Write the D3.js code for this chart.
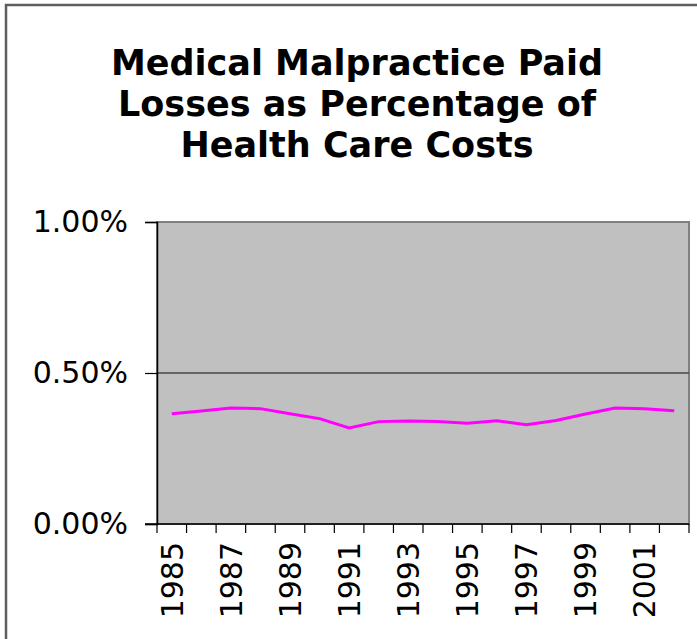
<!DOCTYPE html>
<html>
<head>
<meta charset="utf-8">
<script src="https://cdn.jsdelivr.net/npm/d3@7"></script>
<style>
    body { margin: 0; background: #fff; }
    svg { display: block; font-family: "DejaVu Sans", Verdana, sans-serif; }
</style>
</head>
<body>
<svg class="malpractice" width="697" height="639"></svg>
<script>
//Chart data
var years = ["1985", "1986", "1987", "1988", "1989", "1990", "1991", "1992", "1993",
             "1994", "1995", "1996", "1997", "1998", "1999", "2000", "2001", "2002"];
var lossPct = [0.365, 0.374, 0.384, 0.382, 0.365, 0.349, 0.318, 0.339, 0.341,
               0.339, 0.334, 0.342, 0.329, 0.343, 0.364, 0.384, 0.382, 0.375];
var yTicks = [0, 0.5, 1.0];
var titleLines = ["Medical Malpractice Paid", "Losses as Percentage of", "Health Care Costs"];

var createMalpracticeGraph = function () {
    var svg = d3.select("svg.malpractice"),
        margin = {top: 222, right: 8, bottom: 115, left: 157},
        width = svg.attr("width") - margin.left - margin.right,
        height = svg.attr("height") - margin.top - margin.bottom;

    //Outer frame of the chart object (only left and top edges are on screen)
    svg.append("rect")
        .attr("x", 6)
        .attr("y", 5)
        .attr("width", 720)
        .attr("height", 660)
        .attr("fill", "none")
        .attr("stroke", "#5e5e5e")
        .attr("stroke-width", 2.5);

    //Title
    svg.append("text")
        .attr("x", 357)
        .attr("y", 75)
        .attr("text-anchor", "middle")
        .attr("font-size", "35px")
        .attr("font-weight", "bold")
        .attr("fill", "black")
        .selectAll("tspan")
        .data(titleLines)
        .enter()
        .append("tspan")
        .attr("x", 357)
        .attr("dy", function(d, i) { return i === 0 ? 0 : "41px"; })
        .text(function(d) { return d; });

    var g = svg.append("g").attr("transform", "translate(" + margin.left + "," + margin.top + ")");

    var x = d3.scaleBand().domain(years).range([0, width]);
    var y = d3.scaleLinear().domain([0, 1.0]).range([height, 0]);

    //Plot area
    g.append("rect")
        .attr("x", 0)
        .attr("y", 0)
        .attr("width", width)
        .attr("height", height)
        .attr("fill", "#c0c0c0")
        .attr("stroke", "#808080")
        .attr("stroke-width", 2);

    //Gridlines (only the middle one shows, the others sit on the frame)
    g.append("g")
        .selectAll("line")
        .data(yTicks.filter(function(d) { return d > 0 && d < 1; }))
        .enter()
        .append("line")
        .attr("x1", 0)
        .attr("x2", width)
        .attr("y1", function(d) { return y(d); })
        .attr("y2", function(d) { return y(d); })
        .attr("stroke", "#474747")
        .attr("stroke-width", 1.5);

    //Left axis
    var yAxis = d3.axisLeft(y)
        .tickValues(yTicks)
        .tickSize(12)
        .tickPadding(17)
        .tickFormat(function(d) { return d.toFixed(2) + "%"; });
    var yG = g.append("g").call(yAxis);
    yG.select(".domain").attr("stroke", "black").attr("stroke-width", 1.5);
    yG.selectAll(".tick line").attr("stroke", "black").attr("stroke-width", 1.2);
    yG.selectAll("text")
        .attr("font-family", "DejaVu Sans, Verdana, sans-serif")
        .attr("font-size", "30px")
        .attr("fill", "black");

    //Bottom axis, ticks between categories
    var xG = g.append("g").attr("transform", "translate(0," + height + ")");
    xG.append("line")
        .attr("x1", -12)
        .attr("x2", width)
        .attr("stroke", "black")
        .attr("stroke-width", 1.5);
    xG.selectAll("line.tk")
        .data(years.concat(["end"]))
        .enter()
        .append("line")
        .attr("class", "tk")
        .attr("x1", function(d, i) { return i * x.step(); })
        .attr("x2", function(d, i) { return i * x.step(); })
        .attr("y1", 0)
        .attr("y2", 9)
        .attr("stroke", "black")
        .attr("stroke-width", 1.2);
    xG.selectAll("text")
        .data(years.filter(function(d, i) { return i % 2 === 0; }))
        .enter()
        .append("text")
        .attr("transform", function(d) {
            return "translate(" + (x(d) + x.bandwidth() / 2) + ",18) rotate(-90)";
        })
        .attr("dy", "0.36em")
        .attr("text-anchor", "end")
        .attr("font-size", "30px")
        .attr("fill", "black")
        .text(function(d) { return d; });

    //The line
    var line = d3.line()
        .x(function(d, i) { return x(years[i]) + x.bandwidth() / 2; })
        .y(function(d) { return y(d); });

    g.append("path")
        .attr("d", line(lossPct))
        .attr("fill", "none")
        .attr("stroke", "#ff00ff")
        .attr("stroke-width", 3);
};

createMalpracticeGraph();
</script>
</body>
</html>
